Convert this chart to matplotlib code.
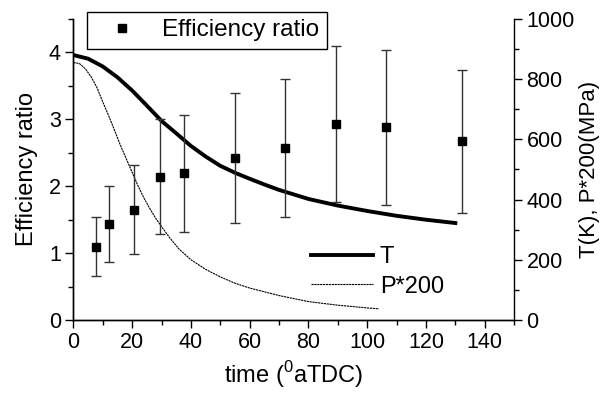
#!/usr/bin/env python
# -*- coding: utf-8 -*-

'''
Efficiency ratio with T and P*200 curves over crank angle
'''

import numpy as np
import matplotlib
matplotlib.use('Agg')
import matplotlib.pyplot as plt
import matplotlib.ticker as ticker

plt.rcParams['font.family'] = ['Liberation Sans', 'DejaVu Sans']
plt.rcParams['mathtext.fontset'] = 'custom'
plt.rcParams['mathtext.rm'] = 'Liberation Sans'

# efficiency ratio points with error bar limits
t_pts = [7.8, 12.0, 20.6, 29.5, 37.8, 55.1, 72.1, 89.3, 106.4, 132.1]
eff = [1.09, 1.43, 1.64, 2.14, 2.19, 2.42, 2.57, 2.93, 2.88, 2.67]
eff_lo = [0.65, 0.86, 0.99, 1.28, 1.31, 1.45, 1.54, 1.76, 1.72, 1.60]
eff_hi = [1.54, 2.00, 2.31, 3.00, 3.06, 3.39, 3.60, 4.10, 4.03, 3.73]

# temperature curve (K)
t_T = [0, 5, 10, 15, 20, 25, 30, 35, 40, 45, 50, 55, 60, 65, 70, 80, 90,
       100, 110, 120, 130]
T = [880, 868, 842, 806, 762, 712, 661, 620, 578, 543, 512, 489, 469, 450,
     432, 402, 380, 362, 346, 333, 322]

# pressure curve (P*200, MPa)
t_P = [0, 2, 4, 6, 8, 10, 12, 14, 16, 18, 20, 22, 24, 26, 28, 30, 33, 36,
       40, 45, 50, 55, 60, 70, 80, 90, 100, 104]
P = [855, 852, 835, 808, 772, 724, 678, 630, 580, 535, 490, 445, 405, 370,
     338, 310, 270, 235, 200, 168, 143, 122, 106, 81, 61, 49, 40, 37]


def plot():
    fig = plt.figure(figsize=(6.02, 3.95), dpi=100)
    ax1 = fig.add_axes([0.122, 0.19, 0.732, 0.762])
    ax2 = ax1.twinx()
    ax1.set_zorder(10)
    ax1.patch.set_visible(False)

    # curves on the right axis
    lT, = ax2.plot(t_T, T, color='black', linewidth=2.8, label='T')
    lP, = ax2.plot(t_P, P, color='black', linewidth=0.8,
                   linestyle=(0, (2, 0.6)), label='P*200')
    ax2.set_ylim(0, 1000)
    ax2.yaxis.set_major_locator(ticker.MultipleLocator(200))
    ax2.yaxis.set_minor_locator(ticker.MultipleLocator(100))
    ax2.set_ylabel('T(K), P*200(MPa)', fontsize=16, labelpad=3)

    # efficiency points with error bars
    e = np.array(eff)
    yerr = [e - np.array(eff_lo), np.array(eff_hi) - e]
    eb = ax1.errorbar(t_pts, eff, yerr=yerr, fmt='s', color='black',
                      ecolor='#333333', elinewidth=1.0, capsize=3.5,
                      capthick=1.0, markersize=6, label='Efficiency ratio')
    ax1.set_xlim(0, 150)
    ax1.set_ylim(0, 4.5)
    ax1.xaxis.set_major_locator(ticker.MultipleLocator(20))
    ax1.xaxis.set_minor_locator(ticker.MultipleLocator(10))
    ax1.yaxis.set_major_locator(ticker.MultipleLocator(1))
    ax1.yaxis.set_minor_locator(ticker.MultipleLocator(0.5))
    ax1.set_xlabel('time ($^{0}$aTDC)', fontsize=17, labelpad=4)
    ax1.set_ylabel('Efficiency ratio', fontsize=17, labelpad=8)

    for ax in (ax1, ax2):
        ax.spines['top'].set_visible(False)
        ax.tick_params(which='major', length=6, width=1, labelsize=15.5,
                       direction='out', pad=3)
        ax.tick_params(which='minor', length=3.5, width=1, direction='out')
        for s in ax.spines.values():
            s.set_linewidth(1)
    ax1.spines['right'].set_visible(False)

    leg1 = ax1.legend([eb[0]], ['Efficiency ratio'], loc='upper left',
                      bbox_to_anchor=(87 / 602, 1 - 12 / 395),
                      bbox_transform=fig.transFigure, fontsize=17.5,
                      fancybox=False, edgecolor='black', framealpha=1,
                      borderaxespad=0, borderpad=0.3, handlelength=2.3,
                      handletextpad=0.5)
    leg1.get_frame().set_linewidth(1)
    ax1.add_artist(leg1)
    ax1.legend([lT, lP], ['T', 'P*200'], loc='upper left',
               bbox_to_anchor=(302 / 602, 1 - 237 / 395),
               bbox_transform=fig.transFigure, fontsize=17, frameon=False,
               borderaxespad=0, handlelength=2.6, handletextpad=0.3,
               labelspacing=0.3)

    fig.savefig('out.png', dpi=100)


if __name__ == '__main__':
    plot()
